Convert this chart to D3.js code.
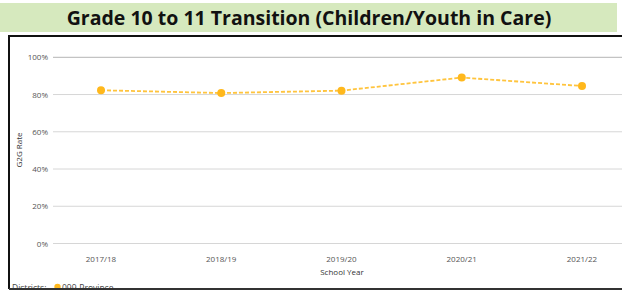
<!DOCTYPE html>
<html>
<head>
<meta charset="utf-8">
<script src="https://cdn.jsdelivr.net/npm/d3@7"></script>
<style>
  body { margin: 0; background: #fff; }
  svg { display: block; }
</style>
</head>
<body>
<svg id="chart" width="622" height="290"></svg>
<script>
const schoolYears = ['2017/18', '2018/19', '2019/20', '2020/21', '2021/22'];
const provinceRate = [82.3, 80.8, 82.1, 89.1, 84.6];
const yTicks = [0, 20, 40, 60, 80, 100];
const seriesName = '099-Province';

const svg = d3.select('#chart');
const font = "'Open Sans', 'Noto Sans', sans-serif";
const orange = '#ffb81c';

// title band
svg.append('rect').attr('x', 0).attr('y', 3).attr('width', 617).attr('height', 29).attr('fill', '#d6e9be');
svg.append('text')
  .attr('x', 309).attr('y', 25)
  .attr('text-anchor', 'middle')
  .attr('font-family', font).attr('font-weight', 700).attr('font-size', 19.5)
  .attr('fill', '#111')
  .text('Grade 10 to 11 Transition (Children/Youth in Care)');

// frame
svg.append('path')
  .attr('d', 'M9,289 L9,36 L622,36')
  .attr('fill', 'none').attr('stroke', '#111').attr('stroke-width', 2);

const x = d3.scalePoint().domain(schoolYears).range([101, 582]);
const y = d3.scaleLinear().domain([0, 100]).range([243.5, 57.3]);

// gridlines + y labels
const g = svg.append('g');
g.selectAll('line.grid').data(yTicks).enter().append('line')
  .attr('x1', 53).attr('x2', 622)
  .attr('y1', d => y(d)).attr('y2', d => y(d))
  .attr('stroke', d => d === 100 ? '#b5b5b5' : '#d6d6d6').attr('stroke-width', 1);
g.selectAll('text.ytick').data(yTicks).enter().append('text')
  .attr('x', 48).attr('y', d => y(d) + 3)
  .attr('text-anchor', 'end')
  .attr('font-family', font).attr('font-size', 8).attr('fill', '#555')
  .text(d => d + '%');

// x labels
g.selectAll('text.xtick').data(schoolYears).enter().append('text')
  .attr('x', d => x(d)).attr('y', 262)
  .attr('text-anchor', 'middle')
  .attr('font-family', font).attr('font-size', 8).attr('fill', '#555')
  .text(d => d);

// axis titles
svg.append('text')
  .attr('x', 342).attr('y', 275)
  .attr('text-anchor', 'middle')
  .attr('font-family', font).attr('font-size', 8).attr('fill', '#333')
  .text('School Year');
svg.append('text')
  .attr('transform', 'translate(22,150) rotate(-90)')
  .attr('text-anchor', 'middle')
  .attr('font-family', font).attr('font-size', 8).attr('fill', '#333')
  .text('G2G Rate');

// series
const line = d3.line().x((d, i) => x(schoolYears[i])).y(d => y(d));
svg.append('path')
  .datum(provinceRate)
  .attr('d', line)
  .attr('fill', 'none')
  .attr('stroke', '#ffc43d').attr('stroke-width', 1.8)
  .attr('stroke-dasharray', '4,2');
svg.selectAll('circle.pt').data(provinceRate).enter().append('circle')
  .attr('cx', (d, i) => x(schoolYears[i])).attr('cy', d => y(d))
  .attr('r', 4).attr('fill', orange);

// legend (partly hidden by the frame bottom, as in the original)
const leg = svg.append('g');
leg.append('text')
  .attr('x', 12).attr('y', 291)
  .attr('font-family', font).attr('font-size', 8.5).attr('fill', '#444')
  .text('Districts:');
leg.append('circle').attr('cx', 57.5).attr('cy', 287).attr('r', 3.2).attr('fill', orange);
leg.append('text')
  .attr('x', 62).attr('y', 291)
  .attr('font-family', font).attr('font-size', 8.5).attr('fill', '#444')
  .text(seriesName);
svg.append('line').attr('x1', 9).attr('x2', 622).attr('y1', 289).attr('y2', 289)
  .attr('stroke', '#333').attr('stroke-width', 2);
</script>
</body>
</html>
